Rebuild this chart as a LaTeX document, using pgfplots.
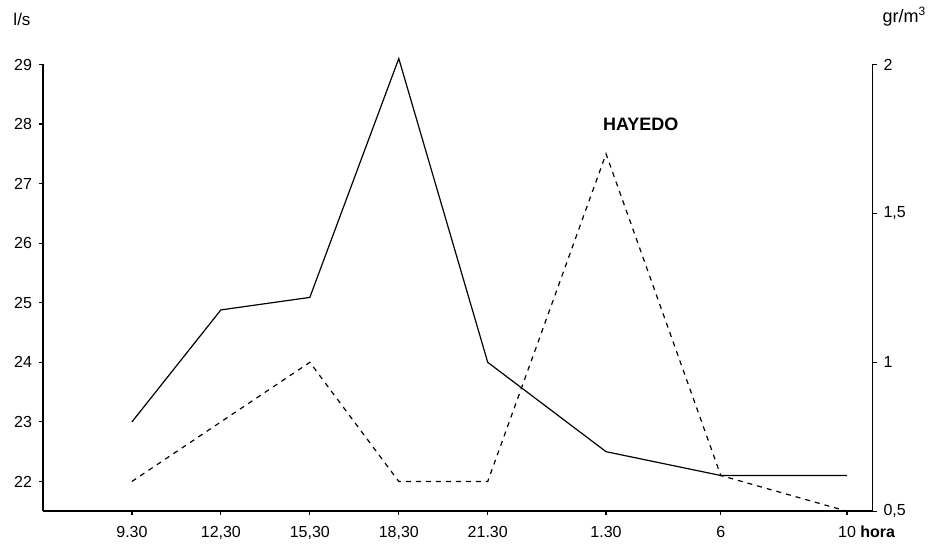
\documentclass[border=0pt]{standalone}
\usepackage{fontspec}
\setmainfont{Liberation Sans}
\usepackage{pgfplots}
\pgfplotsset{compat=1.18}
\begin{document}
\begin{tikzpicture}[font=\fontsize{8}{9.5}\selectfont]
\pgfplotsset{
  common/.style={
    scale only axis, width=415pt, height=223.5pt,
    xmin=-1, xmax=8.326,
    tick align=outside, major tick length=2pt,
    axis line style={black, line width=0.8pt},
    tick style={black, line width=0.6pt},
    yticklabel style={/pgf/number format/assume math mode=true},
    clip=false,
  }
}
\begin{axis}[common, name=ax,
  axis y line*=left, axis x line*=bottom,
  ymin=21.5, ymax=29, ytick={22,23,...,29},
  xtick={0,1,2,3,4,5.33,6.62,8.04},
  xticklabels={9.30,{12,30},{15,30},{18,30},21.30,1.30,6,{10\rlap{ \bfseries hora}}},
  xticklabel style={yshift=-2pt},
]
\addplot[black, line width=0.6pt] coordinates {
  (0,23.0) (1,24.88) (2,25.09) (3,29.1) (4,24.0) (5.33,22.5) (6.62,22.1) (8.04,22.1)
};
\node[font=\fontsize{9}{10}\selectfont\bfseries] at (axis cs:5.72,28) {HAYEDO};
\end{axis}
\begin{axis}[common,
  axis y line*=right, axis x line=none,
  ymin=0.5, ymax=2, ytick={0.5,1,1.5,2},
  yticklabels={{0,5},1,{1,5},2},
]
\addplot[black, line width=0.6pt, dash pattern=on 2.5pt off 2.5pt] coordinates {
  (0,0.6) (1,0.8) (2,1.0) (3,0.6) (4,0.6) (5.33,1.7) (6.62,0.62) (8.04,0.5)
};
\end{axis}
\node[font=\fontsize{8.5}{10}\selectfont] at ([shift={(-10.5pt,22.5pt)}]ax.north west) {l/s};
\node[font=\fontsize{9}{10}\selectfont] at ([shift={(16pt,24pt)}]ax.north east) {gr/m\textsuperscript{3}};
\path ([shift={(-21.5pt,-17.5pt)}]ax.south west) rectangle ([shift={(30pt,31pt)}]ax.north east);
\end{tikzpicture}
\end{document}
